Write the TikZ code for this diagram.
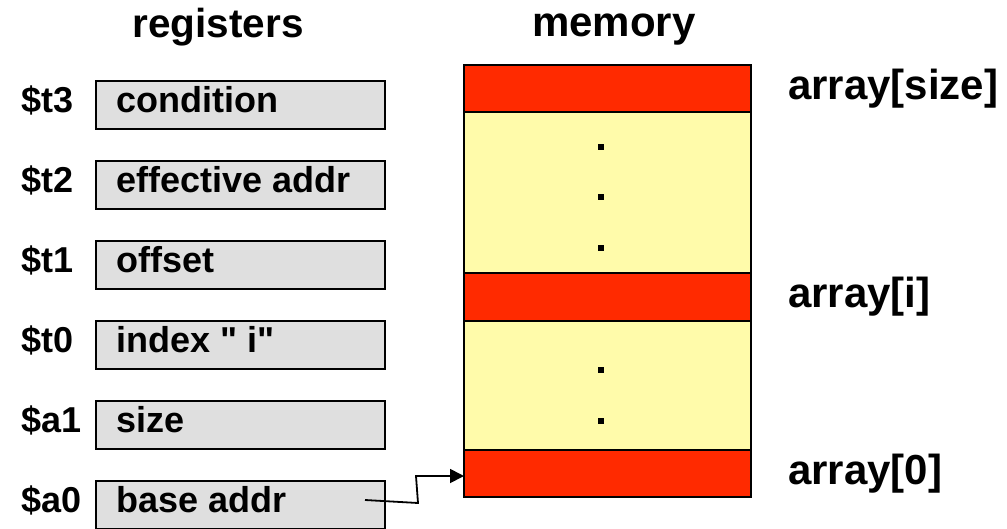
\documentclass[tikz,border=0pt]{standalone}
\usepackage{fontspec}
% plain family: straight quotes stay straight
\newfontfamily\helv{Liberation Sans}
\usetikzlibrary{arrows.meta}
\definecolor{reggray}{HTML}{DFDFDF}
\definecolor{memred}{HTML}{FF2A00}
\definecolor{memyellow}{HTML}{FFFBAA}
\begin{document}
\begin{tikzpicture}[x=1pt,y=-1pt,
  every node/.style={font=\helv\fontsize{36}{40}\selectfont\bfseries},
  bigtxt/.style={font=\helv\fontsize{42}{46}\selectfont\bfseries},
  regbox/.style={draw=black, line width=1.6pt, fill=reggray, anchor=north west,
    minimum width=289pt, minimum height=48pt, inner sep=0pt, outer sep=0pt},
  cell/.style={draw=black, line width=1.8pt, anchor=north west,
    minimum width=287pt, inner sep=0pt, outer sep=0pt},
  redcell/.style={cell, fill=memred},
  yellowcell/.style={cell, fill=memyellow},
  txt/.style={anchor=base west, inner sep=0pt},
  dotmark/.style={fill=black, minimum size=6pt, inner sep=0pt},
  ptr/.style={line width=1.8pt, -{Triangle[length=14pt,width=14pt]}}]
\useasboundingbox (0,0) rectangle (1007,528);

% headings
\node[anchor=base, font=\helv\fontsize{40.5}{44}\selectfont\bfseries] (hreg) at (218,37) {registers};
\node[anchor=base, bigtxt] (hmem) at (614,36) {memory};

% register file
\foreach \name/\lab/\val [count=\i from 0] in
  {t3/\$t3/condition, t2/\$t2/effective addr, t1/\$t1/offset,
   t0/\$t0/index " i", a1/\$a1/size, a0/\$a0/base addr} {
  \node[regbox] (r\name) at (96,{81+80*\i}) {};
  \node[txt] (v\name) at (116,{112+80*\i}) {\val};
  \node[txt] (l\name) at (21,{112+80*\i}) {\lab};
}

% memory cells
\node[redcell, minimum height=47pt] (msize) at (464,65) {};
\node[yellowcell, minimum height=161pt] (mup) at (464,112) {};
\node[redcell, minimum height=48pt] (mi) at (464,273) {};
\node[yellowcell, minimum height=129pt] (mlow) at (464,321) {};
\node[redcell, minimum height=47pt] (m0) at (464,450) {};

% ellipsis dots
\foreach \y [count=\k] in {147,197,248,370,421}
  \node[dotmark] (dot\k) at (601,\y) {};

% element labels
\node[txt, bigtxt] (asize) at (788,99) {array[size]};
\node[txt, bigtxt] (ai) at (788,307) {array[i]};
\node[txt, bigtxt] (azero) at (788,484) {array[0]};

% base address pointer
\coordinate (pstart) at (365,500);
\coordinate (pbend1) at (418,503);
\coordinate (pbend2) at (416,476);
\draw[ptr] (pstart) -- (pbend1) -- (pbend2) -- ([yshift=-2.5pt]m0.west);
\end{tikzpicture}
\end{document}
